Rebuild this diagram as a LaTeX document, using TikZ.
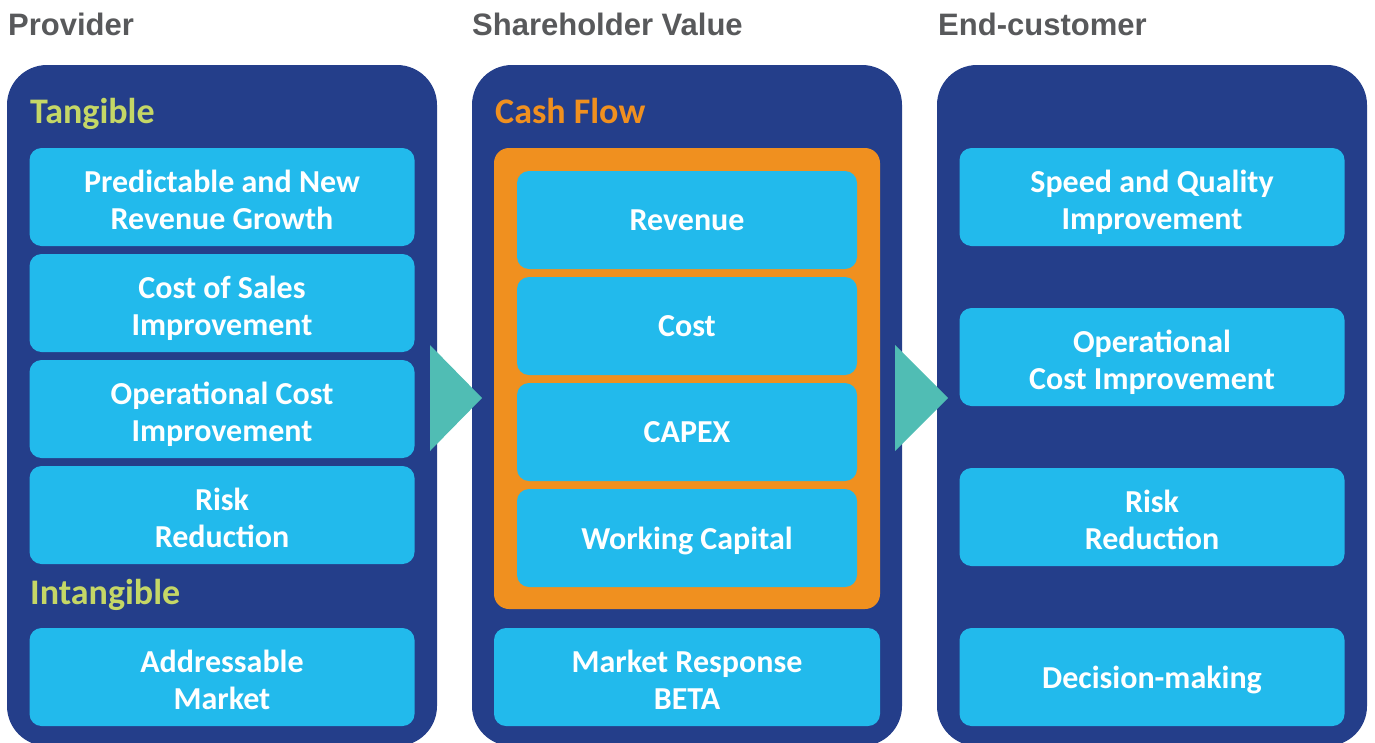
\documentclass[tikz,border=0pt]{standalone}
\usepackage{fontspec}
\newfontfamily\headfont{Liberation Sans}
\newfontfamily\bodyfont{Carlito}
\definecolor{panelblue}{RGB}{36,62,138}
\definecolor{boxcyan}{RGB}{34,186,236}
\definecolor{cashorange}{RGB}{240,144,31}
\definecolor{arrowteal}{RGB}{80,189,180}
\definecolor{labelgreen}{RGB}{197,215,102}
\definecolor{headgray}{RGB}{88,89,91}
\begin{document}
\begin{tikzpicture}[x=1pt,y=-1pt,
  panel/.style={fill=panelblue,draw=none,rounded corners=40pt},
  itembox/.style={fill=boxcyan,draw=none,rounded corners=12pt,
    minimum height=98pt,inner sep=0pt},
  boxtext/.style={text=white,align=center,inner sep=0pt,text depth=0pt,
    font=\bodyfont\bfseries\fontsize{32}{37}\selectfont},
  twoline/.style={yshift=-3pt},
  wide/.style={minimum width=385pt},
  narrow/.style={minimum width=340pt},
  header/.style={anchor=base west,text=headgray,inner sep=0pt,
    font=\headfont\bfseries\fontsize{31}{36}\selectfont},
  sublabel/.style={anchor=base west,inner sep=0pt,
    font=\bodyfont\bfseries\fontsize{36}{40}\selectfont},
  flowarrow/.style={fill=arrowteal,draw=none}]
\useasboundingbox (0,0) rectangle (1375,742);

% column headings
\node[header] (hprov) at (8,35) {Provider};
\node[header] (hshare) at (472,35) {Shareholder Value};
\node[header] (hend) at (938,35) {End-customer};

% dark column panels
\path[panel] (7,65) rectangle (437,746);
\path[panel] (472,65) rectangle (902,746);
\path[panel] (937,65) rectangle (1367,746);

% provider column
\node[sublabel,text=labelgreen] (tang) at (30,123) {Tangible};
\node[itembox,wide] (p1) at (222,197) {};
\node[boxtext,twoline] (p1t) at (p1.center) {Predictable and New\\Revenue Growth};
\node[itembox,wide] (p2) at (222,303) {};
\node[boxtext,twoline] (p2t) at (p2.center) {Cost of Sales\\Improvement};
\node[itembox,wide] (p3) at (222,409) {};
\node[boxtext,twoline] (p3t) at (p3.center) {Operational Cost\\Improvement};
\node[itembox,wide] (p4) at (222,515) {};
\node[boxtext,twoline] (p4t) at (p4.center) {Risk\\Reduction};
\node[sublabel,text=labelgreen] (intang) at (30,604) {Intangible};
\node[itembox,wide] (p5) at (222,677) {};
\node[boxtext,twoline] (p5t) at (p5.center) {Addressable\\Market};

% shareholder value column
\node[sublabel,text=cashorange] (cash) at (495,123) {Cash Flow};
\path[fill=cashorange,rounded corners=15pt] (494,148) rectangle (880,609);
\node[itembox,narrow] (s1) at (687,220) {};
\node[boxtext] (s1t) at (s1.center) {Revenue};
\node[itembox,narrow] (s2) at (687,326) {};
\node[boxtext] (s2t) at (s2.center) {Cost};
\node[itembox,narrow] (s3) at (687,432) {};
\node[boxtext] (s3t) at (s3.center) {CAPEX};
\node[itembox,narrow] (s4) at (687,538) {};
\node[boxtext] (s4t) at (s4.center) {Working Capital};
\node[itembox,minimum width=386pt] (s5) at (687,677) {};
\node[boxtext,twoline] (s5t) at (s5.center) {Market Response\\BETA};

% end-customer column
\node[itembox,wide] (e1) at (1152,197) {};
\node[boxtext,twoline] (e1t) at (e1.center) {Speed and Quality\\Improvement};
\node[itembox,wide] (e2) at (1152,357) {};
\node[boxtext,twoline] (e2t) at (e2.center) {Operational\\Cost Improvement};
\node[itembox,wide] (e3) at (1152,517) {};
\node[boxtext,twoline] (e3t) at (e3.center) {Risk\\Reduction};
\node[itembox,wide] (e4) at (1152,677) {};
\node[boxtext] (e4t) at (e4.center) {Decision-making};

% flow arrows between columns
\path[flowarrow] (430,345) -- (482,398) -- (430,451) -- cycle;
\path[flowarrow] (895,345) -- (948,398) -- (895,451) -- cycle;
\end{tikzpicture}
\end{document}
